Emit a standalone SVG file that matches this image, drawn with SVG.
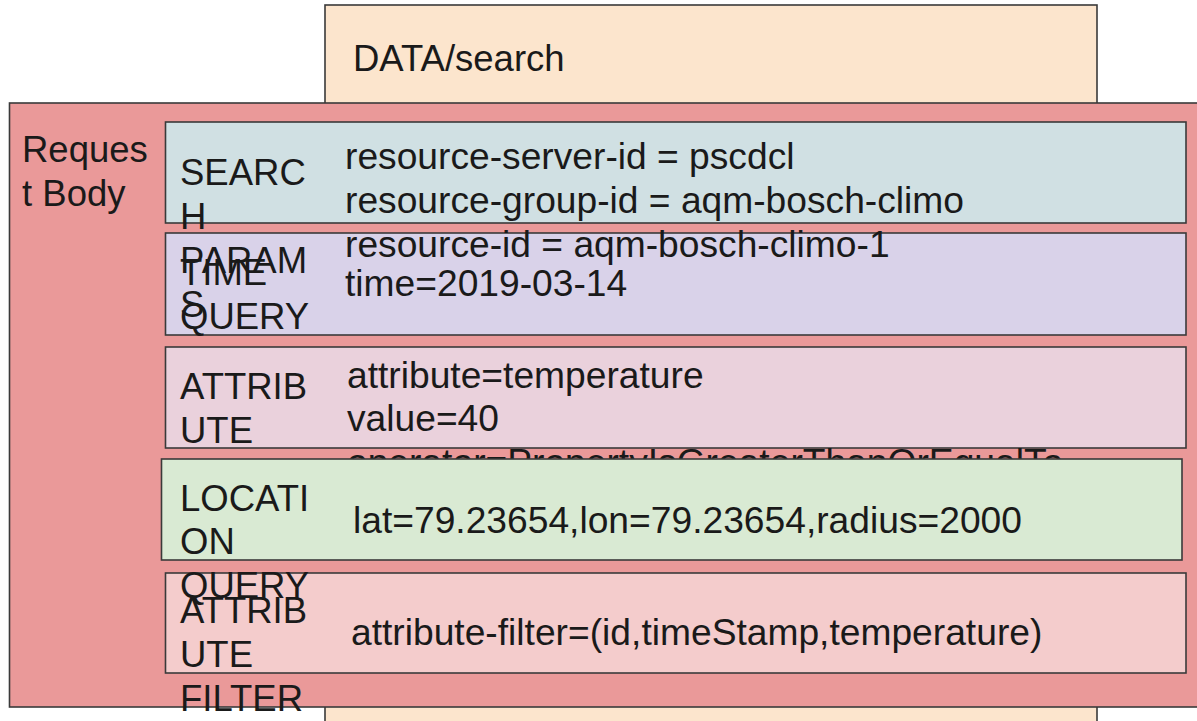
<svg xmlns="http://www.w3.org/2000/svg" width="1197" height="721" viewBox="0 0 1197 721">
  <style>
    .box { stroke: #3a3a3a; stroke-width: 1.6; }
    .t { font-family: "Liberation Sans", Arial, sans-serif; font-size: 36.5px; fill: #1a1a1a; }
    .v { font-size: 37.2px; }
  </style>
  <rect x="0" y="0" width="1197" height="721" fill="#ffffff"/>

  <!-- endpoint panel behind the request body -->
  <g id="endpoint">
    <rect class="box" x="325" y="5" width="772" height="740" fill="#fce5cd"/>
    <text class="t" x="353" y="71">DATA/search</text>
  </g>

  <!-- request body container -->
  <g id="request-body">
    <rect class="box" x="9.5" y="103" width="1200" height="604" fill="#ea9999"/>
    <text class="t" x="22" y="162">Reques</text>
    <text class="t" x="22" y="206">t Body</text>
  </g>

  <g id="attribute-filter">
    <rect class="box" x="165.5" y="573" width="1020.5" height="100" fill="#f4cccc"/>
    <text class="t" x="180" y="623">ATTRIB</text>
    <text class="t" x="180" y="667">UTE</text>
    <text class="t" x="180" y="711">FILTER</text>
    <text class="t v" x="351" y="645">attribute-filter=(id,timeStamp,temperature)</text>
  </g>

  <g id="time-query">
    <rect class="box" x="165.5" y="233" width="1020.5" height="102" fill="#d9d2e9"/>
    <text class="t" x="180" y="285">TIME</text>
    <text class="t" x="180" y="329">QUERY</text>
    <text class="t v" x="345" y="296">time=2019-03-14</text>
  </g>

  <g id="search-params">
    <rect class="box" x="165.5" y="122" width="1020.5" height="101" fill="#d0e0e3"/>
    <text class="t" x="180" y="185">SEARC</text>
    <text class="t" x="180" y="229">H</text>
    <text class="t" x="180" y="273">PARAM</text>
    <text class="t" x="180" y="317">S</text>
    <text class="t v" x="345" y="169">resource-server-id = pscdcl</text>
    <text class="t v" x="345" y="213">resource-group-id = aqm-bosch-climo</text>
    <text class="t v" x="345" y="257">resource-id = aqm-bosch-climo-1</text>
  </g>

  <g id="attribute">
    <rect class="box" x="165.5" y="347" width="1020.5" height="101" fill="#ead1dc"/>
    <text class="t" x="180" y="399">ATTRIB</text>
    <text class="t" x="180" y="443">UTE</text>
    <text class="t v" x="347" y="388">attribute=temperature</text>
    <text class="t v" x="347" y="431">value=40</text>
    <text class="t v" x="347" y="475">operator=PropertyIsGreaterThanOrEqualTo</text>
  </g>

  <g id="location-query">
    <rect class="box" x="161.5" y="459" width="1020.5" height="101" fill="#d9ead3"/>
    <text class="t" x="180" y="511">LOCATI</text>
    <text class="t" x="180" y="554">ON</text>
    <text class="t" x="180" y="598">QUERY</text>
    <text class="t v" x="353" y="533">lat=79.23654,lon=79.23654,radius=2000</text>
  </g>

  <!-- no connectors in this diagram -->
  <g id="connectors"/>
</svg>
